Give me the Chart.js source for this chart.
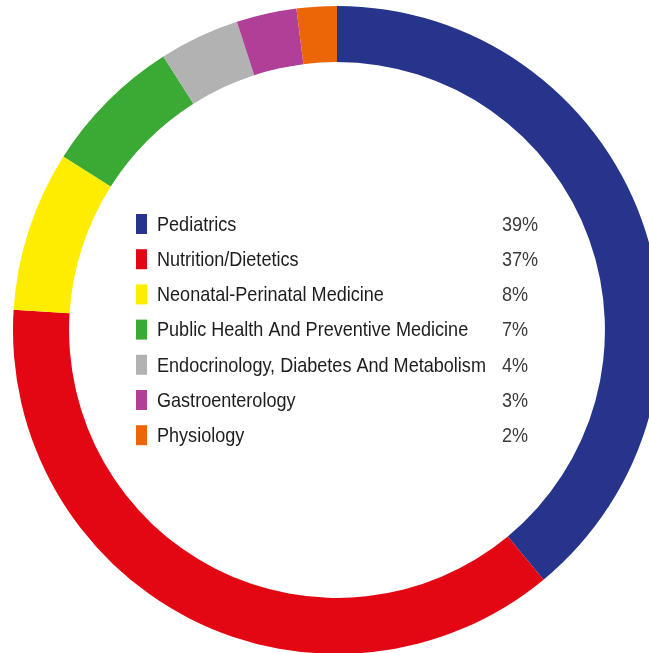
<!DOCTYPE html>
<html>
<head>
<meta charset="utf-8">
<script src="https://cdn.jsdelivr.net/npm/chart.js@4/dist/chart.umd.min.js"></script>
<style>
  html, body { margin: 0; padding: 0; background: #fff; overflow: hidden; width: 649px; height: 653px; }
  #wrap { position: absolute; left: 13px; top: 6px; width: 648px; height: 648px; }
</style>
</head>
<body>
<div id="wrap"><canvas id="donut" width="648" height="648"></canvas></div>
<script>
// Specialties and their share (%)
const labels = ['Pediatrics', 'Nutrition/Dietetics', 'Neonatal-Perinatal Medicine', 'Public Health And Preventive Medicine', 'Endocrinology, Diabetes And Metabolism', 'Gastroenterology', 'Physiology'];
const shares = [39, 37, 8, 7, 4, 3, 2];
const colors = ['#27348b', '#e30613', '#ffed00', '#3aaa35', '#b2b2b2', '#b03f97', '#ec6608'];

// Legend drawn in the middle of the ring (condensed look via horizontal scale)
const centerLegend = {
  id: 'centerLegend',
  afterDraw(chart) {
    const ctx = chart.ctx;
    const meta = chart.getDatasetMeta(0);
    const cx = meta.data[0].x, cy = meta.data[0].y;
    const rowH = 35.2;
    const top = cy - 106;
    const squeeze = 0.86;
    ctx.save();
    ctx.font = '21px "Liberation Sans", Arial, sans-serif';
    ctx.textBaseline = 'middle';
    ctx.textAlign = 'left';
    labels.forEach((lab, i) => {
      const y = top + i * rowH;
      ctx.fillStyle = colors[i];
      ctx.fillRect(cx - 201, y - 10, 11, 20);
      ctx.save();
      ctx.translate(cx - 180, y + 1);
      ctx.scale(squeeze, 1);
      ctx.fillStyle = '#1e1c1d';
      ctx.fillText(lab, 0, 0);
      ctx.restore();
      ctx.save();
      ctx.translate(cx + 165, y + 1);
      ctx.scale(squeeze, 1);
      ctx.fillStyle = '#3a3a3a';
      ctx.fillText(shares[i] + '%', 0, 0);
      ctx.restore();
    });
    ctx.restore();
  }
};

new Chart(document.getElementById('donut').getContext('2d'), {
  type: 'doughnut',
  data: {
    labels: labels,
    datasets: [{
      data: shares,
      backgroundColor: colors,
      borderWidth: 0
    }]
  },
  options: {
    responsive: false,
    animation: false,
    cutout: '82.7%',
    layout: { padding: 0 },
    plugins: {
      legend: { display: false },
      tooltip: { enabled: false }
    }
  },
  plugins: [centerLegend]
});
</script>
</body>
</html>
